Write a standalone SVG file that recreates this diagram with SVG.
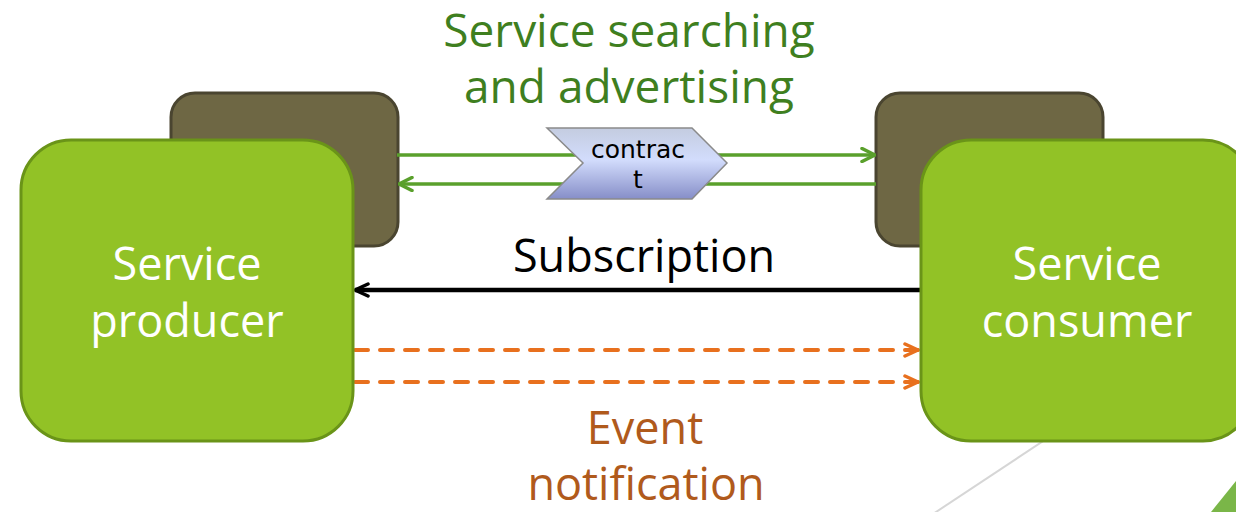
<svg xmlns="http://www.w3.org/2000/svg" width="1236" height="512" viewBox="0 0 1236 512">
  <defs>
    <linearGradient id="contractFill" x1="0" y1="0" x2="0" y2="1">
      <stop offset="0" stop-color="#c4cce0"/>
      <stop offset="0.45" stop-color="#d2dcfc"/>
      <stop offset="1" stop-color="#868ec8"/>
    </linearGradient>
    <marker id="arrowGreen" viewBox="0 0 16 16" refX="15" refY="8" markerWidth="16" markerHeight="16" markerUnits="userSpaceOnUse" orient="auto">
      <path d="M2,1.5 L15,8 L2,14.5" fill="none" stroke="#5aa02c" stroke-width="3.5" stroke-linecap="round" stroke-linejoin="round"/>
    </marker>
    <marker id="arrowBlack" viewBox="0 0 16 16" refX="15" refY="8" markerWidth="16" markerHeight="16" markerUnits="userSpaceOnUse" orient="auto">
      <path d="M2,2 L15,8 L2,14" fill="none" stroke="#000" stroke-width="3.5" stroke-linecap="round" stroke-linejoin="round"/>
    </marker>
    <marker id="arrowOrange" viewBox="0 0 16 16" refX="15" refY="8" markerWidth="16" markerHeight="16" markerUnits="userSpaceOnUse" orient="auto">
      <path d="M2,2 L15,8 L2,14" fill="none" stroke="#e8701e" stroke-width="3.5" stroke-linecap="round" stroke-linejoin="round"/>
    </marker>
  </defs>
  <style>
    .txt { font-family: "Open Sans", "Noto Sans", "Liberation Sans", sans-serif; text-anchor: middle; }
    .back { fill: #6e6744; stroke: #4a4530; stroke-width: 3; }
    .front { fill: #92c226; stroke: #6a9418; stroke-width: 3; }
    .boxLabel { fill: #ffffff; font-size: 45px; }
    .green { stroke: #5aa02c; stroke-width: 3.5; fill: none; }
    .orange { stroke: #e8701e; stroke-width: 4; fill: none; stroke-dasharray: 13 12; stroke-linecap: round; }
  </style>

  <!-- backdrop ornaments -->
  <line x1="1075" y1="420" x2="933" y2="514" stroke="#d6d6d6" stroke-width="2"/>
  <polygon points="1211,512 1236,481 1236,512" fill="#7ab648"/>

  <!-- registry boxes behind the services -->
  <g id="producer-registry">
    <rect class="back" x="171" y="93" width="227" height="153" rx="24"/>
  </g>
  <g id="consumer-registry">
    <rect class="back" x="876" y="93" width="227" height="153" rx="24"/>
  </g>

  <g id="connectors">
    <line class="green" x1="397" y1="155" x2="875" y2="155" marker-end="url(#arrowGreen)"/>
    <line class="green" x1="876" y1="184" x2="399" y2="184" marker-end="url(#arrowGreen)"/>
    <line x1="921" y1="290" x2="355" y2="290" stroke="#000" stroke-width="4.5" marker-end="url(#arrowBlack)"/>
    <line class="orange" x1="355" y1="350" x2="918" y2="350" marker-end="url(#arrowOrange)"/>
    <line class="orange" x1="355" y1="382" x2="918" y2="382" marker-end="url(#arrowOrange)"/>
  </g>

  <g id="producer">
    <rect class="front" x="21" y="140" width="332" height="301" rx="50"/>
    <text class="txt boxLabel" x="187" y="280">Service<tspan x="187" dy="57">producer</tspan></text>
  </g>
  <g id="consumer">
    <rect class="front" x="921" y="140" width="332" height="301" rx="50"/>
    <text class="txt boxLabel" x="1087" y="280">Service<tspan x="1087" dy="57">consumer</tspan></text>
  </g>

  <g id="contract">
    <polygon points="547,128 692,128 727,163 692,199 547,199 583,163" fill="url(#contractFill)" stroke="#8a8a8a" stroke-width="1.5"/>
    <text x="638" y="158" font-family="DejaVu Sans, Verdana, sans-serif" font-size="25" text-anchor="middle" fill="#000">contrac<tspan x="638" dy="30">t</tspan></text>
  </g>

  <g id="labels">
    <text class="txt" x="629" y="47" font-size="46" fill="#3f7f1f">Service searching<tspan x="629" dy="56">and advertising</tspan></text>
    <text class="txt" x="644" y="272" font-size="45" fill="#000">Subscription</text>
    <text class="txt" x="645" y="444" font-size="45" fill="#b05a1c">Event<tspan x="646" dy="56">notification</tspan></text>
  </g>
</svg>
